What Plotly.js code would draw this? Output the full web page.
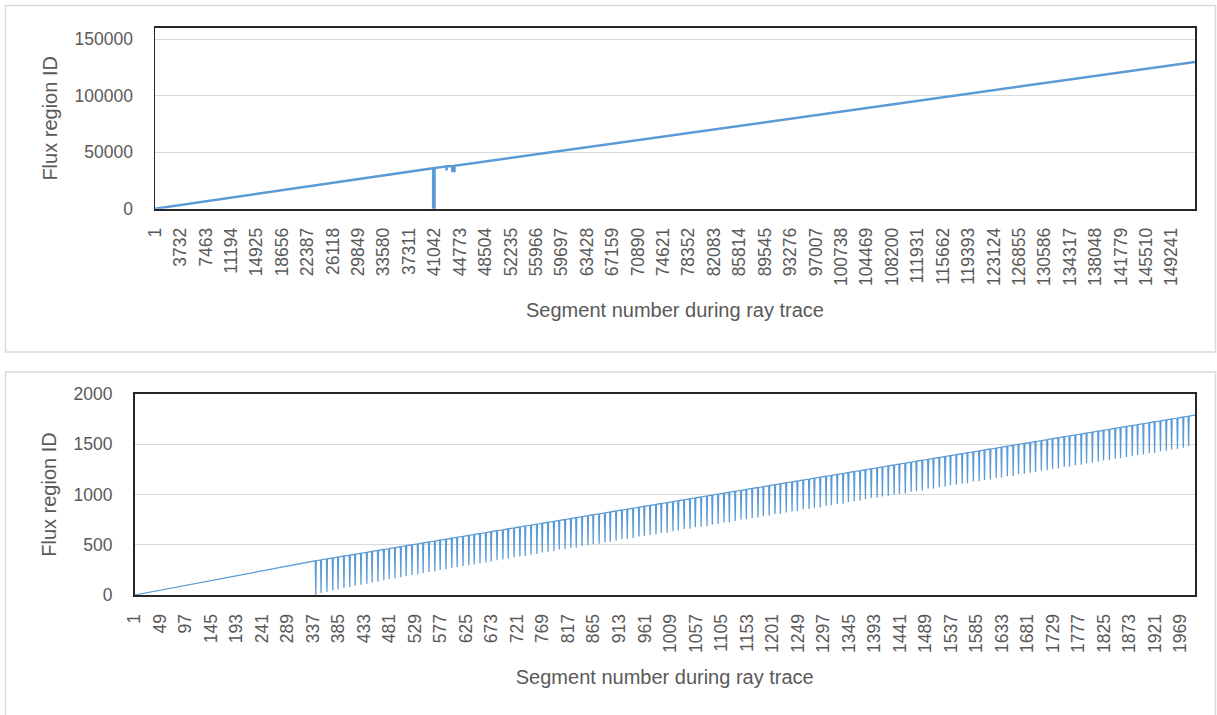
<!DOCTYPE html>
<html><head><meta charset="utf-8">
<script src="https://cdn.plot.ly/plotly-3.0.1.min.js"></script>
<style>html,body{margin:0;padding:0;background:#fff;}#chart{width:1217px;height:715px;}</style>
</head><body><div id="chart"></div>
<script>
// ---------- Top panel: whole ray trace (key vertices) ----------
const fullSeg    = [1, 40830, 40831, 41030, 41031, 42795, 42800, 42805, 43640, 43641, 43960, 43961, 152650];
const fullRegion = [0, 35800, 0, 0, 35980, 37470, 33900, 37480, 37700, 33400, 33400, 37980, 129900];
const fullTickLabels = [1, 3732, 7463, 11194, 14925, 18656, 22387, 26118, 29849, 33580, 37311, 41042, 44773, 48504, 52235, 55966, 59697, 63428, 67159, 70890, 74621, 78352, 82083, 85814, 89545, 93276, 97007, 100738, 104469, 108200, 111931, 115662, 119393, 123124, 126855, 130586, 134317, 138048, 141779, 145510, 149241];

// ---------- Bottom panel: first ~2000 segments ----------
const zoomEndsSeg = [1, 1996];
const zoomEndsRegion = [0, 1791];
const toothSeg = [341,351,362,373,383,394,405,415,426,437,
 447,458,469,479,490,501,511,522,533,543,
 554,565,575,586,597,607,618,629,639,650,
 661,671,682,693,703,714,725,735,746,757,
 767,778,789,799,810,821,831,842,853,863,
 874,885,895,906,917,927,938,949,959,970,
 981,991,1002,1013,1023,1034,1045,1055,1066,1077,
 1087,1098,1109,1119,1130,1141,1151,1162,1173,1183,
 1194,1205,1215,1226,1237,1247,1258,1269,1279,1290,
 1301,1311,1322,1333,1343,1354,1365,1375,1386,1397,
 1407,1418,1429,1439,1450,1461,1471,1482,1493,1503,
 1514,1525,1535,1546,1557,1567,1578,1589,1599,1610,
 1621,1631,1642,1653,1663,1674,1685,1695,1706,1717,
 1727,1738,1749,1759,1770,1781,1791,1802,1813,1823,
 1834,1845,1855,1866,1877,1887,1898,1909,1919,1930,
 1941,1951,1962,1973,1983];
const toothTop = [340,349,359,368,377,387,396,405,415,424,
 433,443,452,461,471,480,490,499,508,518,
 527,536,546,555,564,574,583,592,602,611,
 620,630,639,648,658,667,676,686,695,704,
 714,723,732,742,751,761,770,779,789,798,
 807,817,826,835,845,854,863,873,882,891,
 901,910,919,929,938,947,957,966,975,985,
 994,1003,1013,1022,1032,1041,1050,1060,1069,1078,
 1088,1097,1106,1116,1125,1134,1144,1153,1162,1172,
 1181,1190,1200,1209,1218,1228,1237,1246,1256,1265,
 1274,1284,1293,1303,1312,1321,1331,1340,1349,1359,
 1368,1377,1387,1396,1405,1415,1424,1433,1443,1452,
 1461,1471,1480,1489,1499,1508,1517,1527,1536,1545,
 1555,1564,1574,1583,1592,1602,1611,1620,1630,1639,
 1648,1658,1667,1676,1686,1695,1704,1714,1723,1732,
 1742,1751,1760,1770,1779];
const toothBottom = [0,20,33,45,56,69,80,91,103,113,
 124,135,146,156,167,177,188,199,207,219,
 229,236,249,256,268,276,288,295,306,317,
 327,334,347,353,361,376,382,388,402,408,
 422,426,438,452,455,468,471,487,494,507,
 511,524,528,541,554,557,568,583,586,598,
 604,618,620,635,642,656,659,673,680,685,
 700,706,721,723,737,751,754,767,771,784,
 791,805,806,821,832,836,853,857,868,873,
 888,893,905,909,926,932,939,952,965,968,
 979,985,1000,1006,1011,1027,1035,1040,1057,1061,
 1072,1076,1093,1097,1108,1113,1129,1133,1145,1149,
 1164,1170,1181,1185,1203,1206,1217,1222,1238,1242,
 1254,1258,1275,1279,1290,1295,1311,1315,1327,1338,
 1342,1356,1360,1373,1381,1394,1398,1410,1415,1430,
 1435,1448,1454,1466,1479];
const zoomTickLabels = [1,49,97,145,193,241,289,337,385,433,481,529,577,625,673,721,769,817,865,913,961,1009,1057,1105,1153,1201,1249,1297,1345,1393,1441,1489,1537,1585,1633,1681,1729,1777,1825,1873,1921,1969];

// build the bottom polyline
const zx = [zoomEndsSeg[0]], zy = [zoomEndsRegion[0]];
for (let i = 0; i < toothSeg.length; i++) {
  zx.push(toothSeg[i], toothSeg[i] + 1, toothSeg[i] + 2);
  zy.push(toothTop[i], toothBottom[i], toothTop[i] + 1);
}
zx.push(zoomEndsSeg[1]); zy.push(zoomEndsRegion[1]);

const W = 1217, H = 715;
const px = v => v / W, py = v => 1 - v / H;
const blue = '#5b9bd5', txt = '#595959', grid = '#d9d9d9', axl = '#262626';
const FONT = 'Liberation Sans, Arial, sans-serif';

const traces = [
  {x: fullSeg, y: fullRegion, type: 'scatter', mode: 'lines', line: {color: blue, width: 2.5}, xaxis: 'x', yaxis: 'y', hoverinfo: 'skip'},
  {x: zx, y: zy, type: 'scatter', mode: 'lines', line: {color: blue, width: 1.25}, xaxis: 'x2', yaxis: 'y2', hoverinfo: 'skip'}
];

function xax(dom, range, labels, anchor) {
  return {domain: dom, range: range, anchor: anchor, tickmode: 'array', tickvals: labels, ticktext: labels.map(String),
    tickangle: -90, showgrid: false, zeroline: false, showline: true, linecolor: axl, linewidth: 2, mirror: true,
    ticks: '', ticklabelstandoff: 10, tickfont: {family: FONT, size: 17.5, color: txt},
    title: {text: 'Segment number during ray trace', font: {family: FONT, size: 20, color: txt}, standoff: 18}};
}
function yax(dom, range, dtick, anchor) {
  return {domain: dom, range: range, anchor: anchor, tick0: 0, dtick: dtick, tickformat: 'd',
    showgrid: true, gridcolor: grid, gridwidth: 1, zeroline: false, showline: true, linecolor: axl, linewidth: 1.5, mirror: true,
    ticks: '', ticklabelstandoff: 17, tickfont: {family: FONT, size: 17.5, color: txt},
    title: {text: 'Flux region ID', font: {family: FONT, size: 20, color: txt}, standoff: 11}};
}

const layout = {
  width: W, height: H, margin: {l: 0, r: 0, t: 0, b: 0}, paper_bgcolor: '#fff', plot_bgcolor: '#fff',
  showlegend: false, font: {family: FONT, color: txt},
  xaxis: xax([px(155), px(1195)], [1, 152650], fullTickLabels, 'y'),
  yaxis: yax([py(208.7), py(28)], [0, 160000], 50000, 'x'),
  xaxis2: xax([px(134.5), px(1195)], [1, 1996], zoomTickLabels, 'y2'),
  yaxis2: yax([py(595), py(394)], [0, 2000], 500, 'x2'),
  shapes: [
    {type: 'rect', xref: 'paper', yref: 'paper', x0: px(5.5), x1: px(1215.5), y0: py(352), y1: py(5.5), line: {color: grid, width: 1.5}, layer: 'below'},
    {type: 'rect', xref: 'paper', yref: 'paper', x0: px(5.5), x1: px(1215.5), y0: py(720), y1: py(372), line: {color: grid, width: 1.5}, layer: 'below'}
  ]
};
Plotly.newPlot('chart', traces, layout, {staticPlot: true, displayModeBar: false});
</script></body></html>
